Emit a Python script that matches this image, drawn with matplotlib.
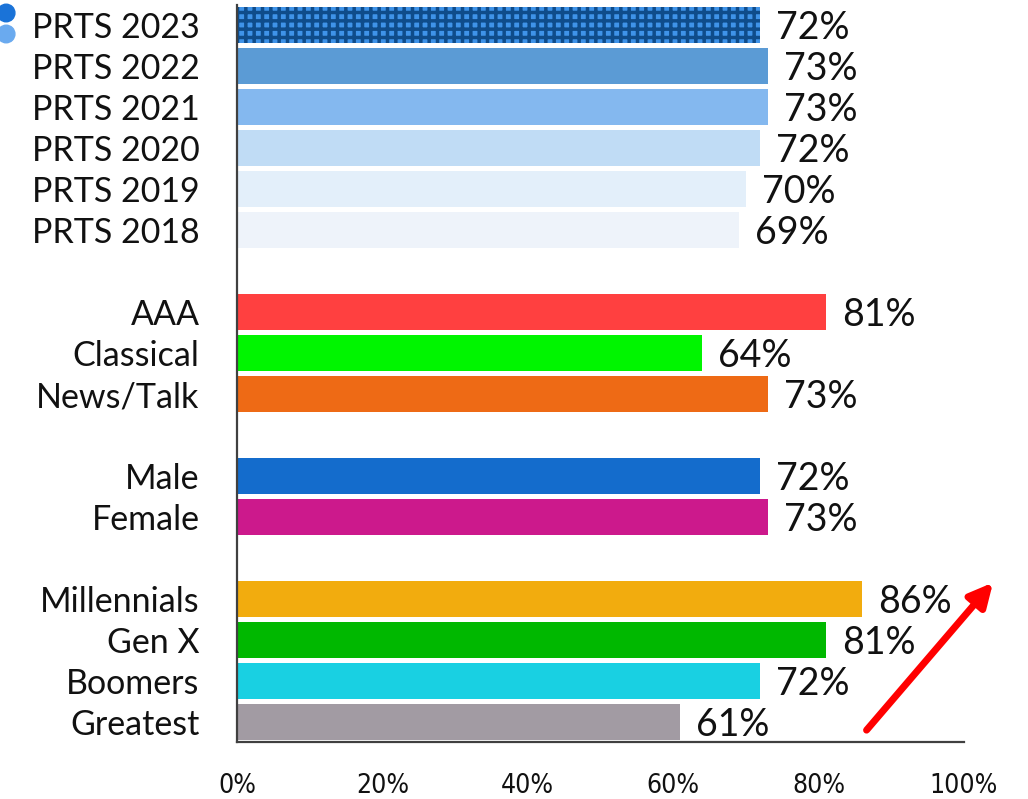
import matplotlib
matplotlib.use("Agg")
import matplotlib.pyplot as plt
from matplotlib.patches import Ellipse

categories = ["PRTS 2023", "PRTS 2022", "PRTS 2021", "PRTS 2020", "PRTS 2019", "PRTS 2018",
              "AAA", "Classical", "News/Talk",
              "Male", "Female",
              "Millennials", "Gen X", "Boomers", "Greatest"]
values = [72, 73, 73, 72, 70, 69,
          81, 64, 73,
          72, 73,
          86, 81, 72, 61]
slots = [0, 1, 2, 3, 4, 5, 7, 8, 9, 11, 12, 14, 15, 16, 17]
colors = ["#3f93e8", "#5b9bd5", "#84b8ef", "#c0dcf5", "#e3effa", "#eef3fa",
          "#ff4040", "#00f500", "#ee6a15",
          "#146ccc", "#cc198c",
          "#f2ac0e", "#00b800", "#19d0e2", "#a29ba3"]
xticks = [0, 20, 40, 60, 80, 100]
xtick_labels = ["0%", "20%", "40%", "60%", "80%", "100%"]

plt.rcParams['hatch.linewidth'] = 2.5
plt.rcParams['hatch.color'] = "#0f4c8a"

fig = plt.figure(figsize=(10.28, 7.99), dpi=100)
ax = fig.add_axes([0.2305, 0.0713, 0.7072, 0.9224])

bars = ax.barh(slots, values, height=0.88, color=colors, edgecolor="none")
bars[0].set_hatch("++")
bars[0].set_edgecolor("#0f4c8a")
bars[0].set_linewidth(0)

lab_font = "Lato"
for s, v in zip(slots, values):
    ax.text(v + 2.2, s + 0.08, f"{v}%", va="center", ha="left", fontsize=27,
            family=lab_font, color="#111111")

ax.set_yticks(slots)
ax.set_yticklabels(categories, fontsize=24.5, family=lab_font, color="#111111")
ax.set_xticks(xticks)
ax.set_xticklabels(xtick_labels, fontsize=19, family="DejaVu Sans",
                   fontstretch="condensed", color="#111111")
ax.tick_params(axis="y", length=0, pad=27)
ax.tick_params(axis="x", length=0, pad=22)
ax.set_xlim(0, 100)
ax.set_ylim(17.49, -0.49)

for sp in ["top", "right"]:
    ax.spines[sp].set_visible(False)
for sp in ["left", "bottom"]:
    ax.spines[sp].set_color("#404040")
    ax.spines[sp].set_linewidth(1.6)

ax.annotate("", xy=(104.0, 13.6), xytext=(86.6, 17.2),
            arrowprops=dict(arrowstyle="-|>,head_length=1.4,head_width=0.7",
                            color="#ff0000", lw=5, shrinkA=0, shrinkB=0),
            annotation_clip=False)

# decorative dots at top-left
fig.patches.append(Ellipse((0.006, 1 - 13 / 799), 0.017, 0.022, transform=fig.transFigure,
                           color="#1a73d8"))
fig.patches.append(Ellipse((0.006, 1 - 34 / 799), 0.017, 0.022, transform=fig.transFigure,
                           color="#6aaaef"))

fig.savefig("out.png", dpi=100)
